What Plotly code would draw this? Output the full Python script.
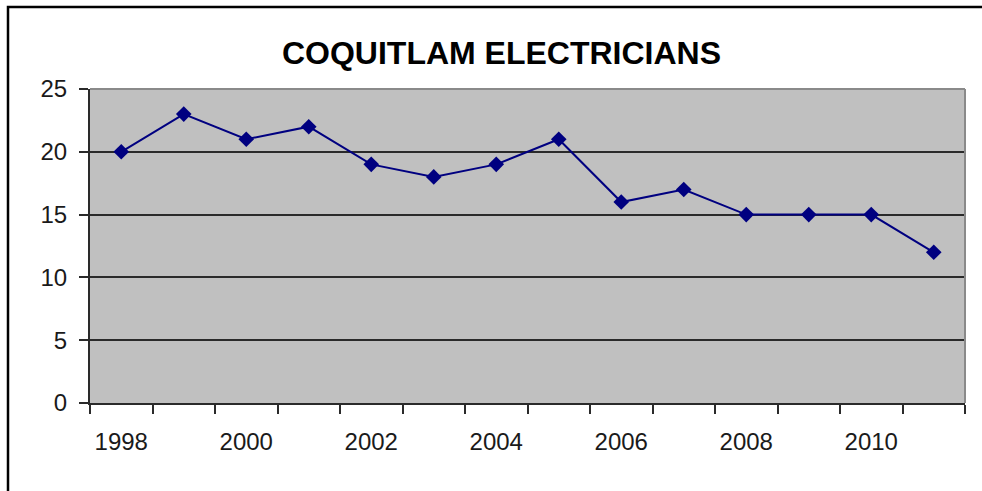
import plotly.graph_objects as go

# Electrician counts per year
years = [1998, 1999, 2000, 2001, 2002, 2003, 2004, 2005, 2006, 2007, 2008, 2009, 2010, 2011]
electricians = [20, 23, 21, 22, 19, 18, 19, 21, 16, 17, 15, 15, 15, 12]
year_labels = [1998, 2000, 2002, 2004, 2006, 2008, 2010]
y_ticks = [0, 5, 10, 15, 20, 25]
title_text = "COQUITLAM ELECTRICIANS"

# category boundaries for the x tick marks
boundaries = [y - 0.5 for y in years] + [years[-1] + 0.5]

label_font = dict(family="Liberation Sans, Arial, sans-serif", size=24, color="#1a1a1a")

fig = go.Figure()
fig.add_trace(go.Scatter(
    x=years, y=electricians, mode="lines+markers",
    line=dict(color="#000080", width=2),
    marker=dict(symbol="diamond", size=12, color="#000080"),
    showlegend=False,
))

W, H = 982, 491
L, R, T, B = 90, 17, 89, 88
pw, ph = W - L - R, H - T - B


def px_x(p):
    return (p - L) / pw


def px_y(p):
    return (H - B - p) / ph


shapes = [
    # outer chart frame (runs off the right and bottom edges)
    dict(type="rect", xref="paper", yref="paper",
         x0=px_x(8), x1=px_x(995), y0=px_y(505), y1=px_y(7),
         line=dict(color="#000000", width=2.5), fillcolor="rgba(0,0,0,0)", layer="above"),
    # plot-area border on top and right
    dict(type="line", xref="paper", yref="paper", x0=0, x1=1, y0=1, y1=1,
         line=dict(color="#8a8a8a", width=2), layer="above"),
    dict(type="line", xref="paper", yref="paper", x0=1, x1=1, y0=0, y1=1,
         line=dict(color="#8a8a8a", width=2), layer="above"),
]

fig.update_layout(
    width=W, height=H,
    margin=dict(l=L, r=R, t=T, b=B, pad=0),
    paper_bgcolor="#ffffff",
    plot_bgcolor="#c0c0c0",
    title=dict(text="<b>" + title_text + "</b>", x=501.5 / W, xanchor="center",
               y=1 - 53 / H, yanchor="middle",
               font=dict(family="Liberation Sans, Arial, sans-serif", size=32, color="#000000")),
    shapes=shapes,
    xaxis=dict(
        range=[years[0] - 0.5, years[-1] + 0.5],
        tickvals=year_labels, ticktext=[str(v) for v in year_labels],
        ticks="", showgrid=False, zeroline=False,
        showline=True, linecolor="#2a2a2a", linewidth=2,
        tickfont=label_font, ticklabelstandoff=16,
        minor=dict(tickvals=boundaries, ticks="outside", ticklen=9,
                   tickwidth=2, tickcolor="#2a2a2a", showgrid=False),
    ),
    yaxis=dict(
        range=[0, 25], tickvals=y_ticks,
        ticks="outside", ticklen=9, tickwidth=2, tickcolor="#2a2a2a",
        showgrid=True, gridcolor="#2a2a2a", gridwidth=2,
        zeroline=False, showline=True, linecolor="#2a2a2a", linewidth=2,
        tickfont=label_font, ticklabelstandoff=7,
    ),
)

fig.write_html("out.html")
